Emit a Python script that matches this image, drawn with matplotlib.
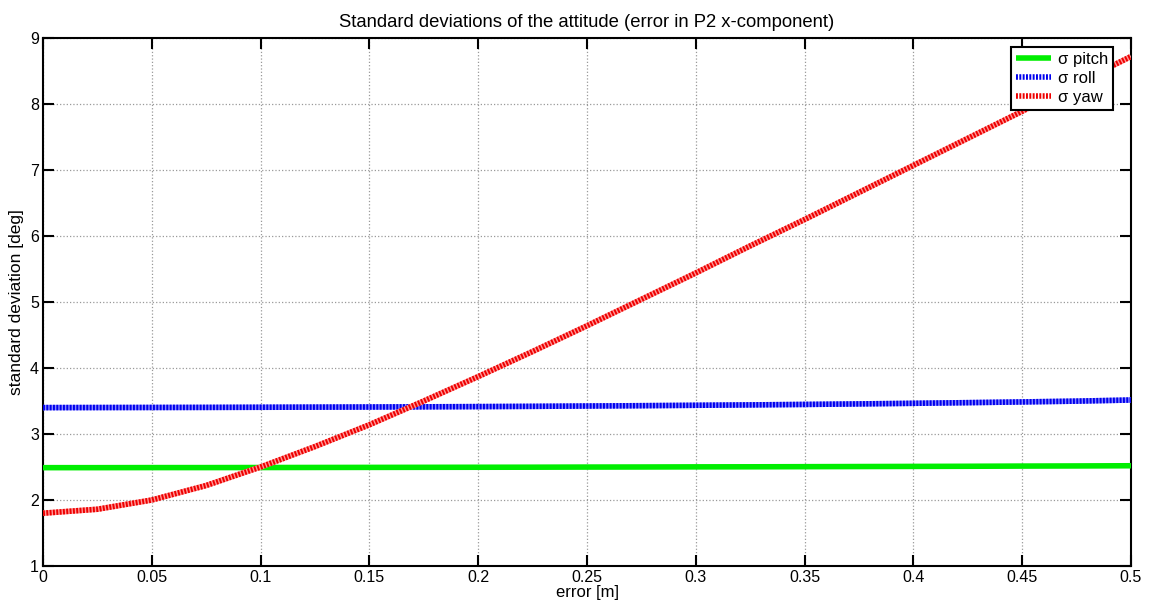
#!/usr/bin/env python3
import numpy as np
import matplotlib
matplotlib.use("Agg")
import matplotlib.pyplot as plt

plt.rcParams['font.family'] = ['Liberation Sans', 'DejaVu Sans']

error_x = [0.0, 0.025, 0.05, 0.075, 0.1, 0.125, 0.15, 0.175, 0.2, 0.225, 0.25,
           0.275, 0.3, 0.325, 0.35, 0.375, 0.4, 0.425, 0.45, 0.475, 0.5]
sigma_pitch = [2.490, 2.490, 2.491, 2.491, 2.492, 2.493, 2.494, 2.495, 2.496, 2.497, 2.499,
               2.500, 2.502, 2.503, 2.505, 2.507, 2.509, 2.511, 2.514, 2.516, 2.519]
sigma_roll = [3.400, 3.401, 3.402, 3.403, 3.405, 3.407, 3.409, 3.412, 3.415, 3.419, 3.424,
              3.429, 3.435, 3.441, 3.448, 3.456, 3.465, 3.475, 3.486, 3.498, 3.515]
sigma_yaw = [1.80, 1.86, 2.00, 2.22, 2.50, 2.81, 3.14, 3.50, 3.87, 4.25, 4.64,
             5.04, 5.44, 5.85, 6.25, 6.66, 7.07, 7.48, 7.89, 8.31, 8.72]


def main():
    fig = plt.figure(figsize=(11.5, 6.05), dpi=100)
    ax = fig.add_axes([43 / 1150, 1 - 566 / 605, (1131 - 43) / 1150, (566 - 38) / 605])

    ax.plot(error_x, sigma_pitch, color='#00ee00', lw=4.0, solid_capstyle='butt',
            label='σ pitch', zorder=3)
    # roll and yaw look like densely packed markers -> striped line
    ax.plot(error_x, sigma_roll, color='#8888ff', lw=4.0, solid_capstyle='butt', zorder=3)
    ax.plot(error_x, sigma_roll, color='#0000ee', lw=4.0, ls=(0, (0.35, 0.25)),
            dash_capstyle='butt', label='σ roll', zorder=3)
    ax.plot(error_x, sigma_yaw, color='#ff9999', lw=4.0, solid_capstyle='butt', zorder=3)
    ax.plot(error_x, sigma_yaw, color='#ee0000', lw=4.0, ls=(0, (0.35, 0.25)),
            dash_capstyle='butt', label='σ yaw', zorder=3)

    ax.set_xlim(0, 0.5)
    ax.set_ylim(1, 9)
    ax.set_xticks(np.arange(0, 0.501, 0.05))
    ax.set_xticklabels(['0', '0.05', '0.1', '0.15', '0.2', '0.25', '0.3', '0.35',
                        '0.4', '0.45', '0.5'])
    ax.set_yticks(np.arange(1, 10, 1))

    ax.grid(True, color='#999999', ls=':', lw=0.9)
    ax.tick_params(direction='in', top=True, right=True, length=8, width=1.5,
                   labelsize=11.5, pad=3)
    for s in ax.spines.values():
        s.set_linewidth(1.5)

    ax.set_xlabel('error [m]', fontsize=12, labelpad=0)
    ax.set_ylabel('standard deviation [deg]', fontsize=12.5, labelpad=4)
    ax.set_title('Standard deviations of the attitude (error in P2 x-component)',
                 fontsize=13.3, pad=8)

    leg = ax.legend(loc='upper right', bbox_to_anchor=(0.9835, 0.983), fontsize=12,
                    fancybox=False, framealpha=1, edgecolor='black',
                    handlelength=2.1, handletextpad=0.4, borderpad=0.3,
                    labelspacing=0.25, borderaxespad=0)
    leg.get_frame().set_linewidth(1.5)

    fig.savefig('out.png', dpi=100)


if __name__ == "__main__":
    main()
